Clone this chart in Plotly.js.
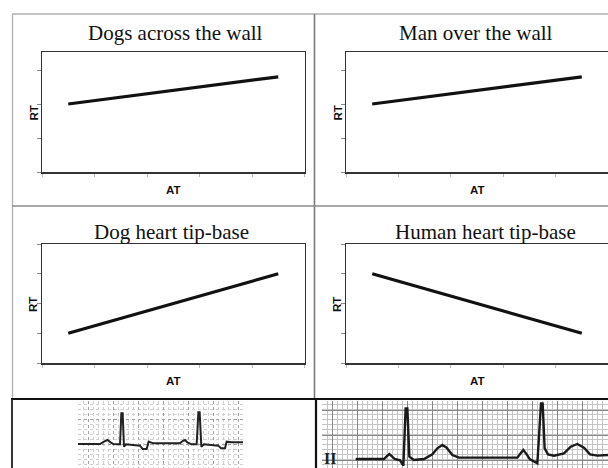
<!DOCTYPE html>
<html>
<head>
<meta charset="utf-8">
<script src="https://cdn.plot.ly/plotly-3.0.1.min.js"></script>
<style>html,body{margin:0;padding:0;background:#fff;}#chart{width:608px;height:468px;}</style>
</head>
<body>
<div id="chart"></div>
<script>
// ---- data ----
const panelTitles = ["Dogs across the wall", "Man over the wall", "Dog heart tip-base", "Human heart tip-base"];
const xLabel = "AT";
const yLabel = "RT";
const dogsWallAT = [0.5, 4.5];
const dogsWallRT = [2.0, 2.8];
const manWallAT = [0.5, 4.5];
const manWallRT = [2.0, 2.8];
const dogHeartAT = [0.5, 4.5];
const dogHeartRT = [1.0, 3.0];
const humanHeartAT = [0.5, 4.5];
const humanHeartRT = [3.0, 1.0];
// ECG traces (grid squares)
const dogEcgT = [0, 4.4, 5.2, 5.87, 6.53, 7.07, 8.07, 8.4, 8.67, 8.93, 9.2, 9.6, 12.4, 12.93, 13.73, 14.13, 15.07, 20.4, 20.93, 21.4, 21.87, 22.73, 23.73, 24.07, 24.33, 24.67, 25.2, 28.07, 28.6, 29.4, 29.73, 30.73, 33];
const dogEcgV = [0, 0, 0.47, 0.8, 0.33, 0, -0.07, -0.07, 6.13, 6.13, -0.53, -0.07, -0.33, -1.0, -1.0, 0.47, 0.13, 0.13, 0.6, 0.8, 0.33, -0.07, -0.07, 6.33, 6.33, -0.53, -0.07, -0.33, -0.87, -0.87, 0.47, 0.33, 0.33];
const humanEcgT = [6.73, 12.4, 12.93, 13.47, 14.0, 14.53, 15.6, 16.27, 16.73, 17.07, 17.47, 18.4, 20.4, 22.07, 23.07, 24.07, 24.93, 26.07, 27.4, 39.07, 39.73, 40.27, 40.93, 41.6, 43.07, 43.8, 44.13, 44.53, 45.2, 46.4, 48.4, 49.73, 51.07, 52.4, 53.6, 55.07, 57.2];
const humanEcgV = [0, 0, 0.53, 1.0, 0.53, 0, -0.27, -1.33, 10.13, 10.13, 0.47, -0.2, 0, 0.93, 2.13, 2.8, 2.27, 0.8, 0.27, 0.27, 1.13, 1.8, 0.93, -0.07, -0.87, 11.13, 11.13, 2.13, 0.93, 0.67, 1.13, 2.47, 3.0, 2.27, 0.93, 0.67, 0.8];
const leadLabel = "II";

// ---- layout helpers ----
const W = 608, H = 468;
const px = p => p / W;
const py = p => 1 - p / H;

const lineStyle = {color: '#111', width: 3.2};
const traces = [
  {x: dogsWallAT, y: dogsWallRT, xaxis: 'x', yaxis: 'y', mode: 'lines', line: lineStyle},
  {x: manWallAT, y: manWallRT, xaxis: 'x2', yaxis: 'y2', mode: 'lines', line: lineStyle},
  {x: dogHeartAT, y: dogHeartRT, xaxis: 'x3', yaxis: 'y3', mode: 'lines', line: lineStyle},
  {x: humanHeartAT, y: humanHeartRT, xaxis: 'x4', yaxis: 'y4', mode: 'lines', line: lineStyle},
  {x: dogEcgT, y: dogEcgV, xaxis: 'x5', yaxis: 'y5', mode: 'lines', line: {color: '#222', width: 2}},
  {x: humanEcgT, y: humanEcgV, xaxis: 'x6', yaxis: 'y6', mode: 'lines', line: {color: '#1a1a1a', width: 2.4}}
];

function xa(dom, anchor) {
  return {domain: dom, anchor: anchor, range: [0, 5], tick0: 0, dtick: 1, showline: true, mirror: true,
    linecolor: '#333', linewidth: 1.5, showgrid: false, zeroline: false, showticklabels: false,
    ticks: 'outside', ticklen: 3, tickcolor: '#bbb', fixedrange: true};
}
function ya(dom, anchor, top, mirror) {
  return {domain: dom, anchor: anchor, range: [0, top], tick0: 0, dtick: 1, showline: true, mirror: mirror,
    linecolor: '#333', linewidth: 1.5, showgrid: false, zeroline: false, showticklabels: false,
    ticks: 'outside', ticklen: 4, tickcolor: '#888', fixedrange: true};
}
function ecgAx(dom, anchor, range, tick0, major, minor, dash) {
  return {domain: dom, anchor: anchor, range: range, tick0: tick0, dtick: 5, showgrid: true,
    gridcolor: major, gridwidth: 1, griddash: dash, zeroline: false, showline: false, showticklabels: false,
    ticks: '', fixedrange: true,
    minor: {dtick: 1, showgrid: true, gridcolor: minor, gridwidth: 1, griddash: dash, ticks: ''}};
}

const row1 = [py(172), py(52)], row2 = [py(363), py(244)];
const colL = [px(42), px(304.5)], colR = [px(346), 1];

const layout = {
  width: W, height: H, margin: {l: 0, r: 0, t: 0, b: 0}, showlegend: false,
  paper_bgcolor: '#fff', plot_bgcolor: 'rgba(0,0,0,0)',
  xaxis: xa(colL, 'y'), yaxis: ya(row1, 'x', 3.53, true),
  xaxis2: xa(colR, 'y2'), yaxis2: ya(row1, 'x2', 3.53, false),
  xaxis3: xa(colL, 'y3'), yaxis3: ya(row2, 'x3', 4, true),
  xaxis4: xa(colR, 'y4'), yaxis4: ya(row2, 'x4', 4, false),
  xaxis5: ecgAx([px(78), px(243)], 'y5', [0, 33], 2, '#a0a0a0', '#cfcfcf', 'dot'),
  yaxis5: ecgAx([0, py(401)], 'x5', [-4.8, 8.6], 0, '#a0a0a0', '#cfcfcf', 'dot'),
  xaxis6: ecgAx([px(322), 1], 'y6', [0, 57.2], 2, '#888888', '#c4c4c4', 'solid'),
  yaxis6: ecgAx([0, py(401)], 'x6', [-1.8, 11.6], -0.2, '#888888', '#c4c4c4', 'solid'),
  annotations: [],
  shapes: []
};

const serif = {family: 'Liberation Serif, Times New Roman, serif', size: 21, color: '#111'};
const titlePos = [[175, 33.5], [476, 33.5], [171, 232], [485, 232]];
panelTitles.forEach((t, i) => {
  layout.annotations.push({text: t, xref: 'paper', yref: 'paper', x: px(titlePos[i][0]), y: py(titlePos[i][1]),
    xanchor: 'center', yanchor: 'middle', showarrow: false, font: serif});
});
const sans = {family: 'Liberation Sans, Arial, sans-serif', size: 11.5, color: '#111', weight: 'bold'};
[[33, 113.5], [337, 113.5], [33, 305], [337, 305]].forEach(p => {
  layout.annotations.push({text: '<b>' + yLabel + '</b>', xref: 'paper', yref: 'paper', x: px(p[0]), y: py(p[1]),
    xanchor: 'center', yanchor: 'middle', textangle: -90, showarrow: false, font: sans});
});
[[173, 190], [477, 190], [173, 381], [477, 381]].forEach(p => {
  layout.annotations.push({text: '<b>' + xLabel + '</b>', xref: 'paper', yref: 'paper', x: px(p[0]), y: py(p[1]),
    xanchor: 'center', yanchor: 'middle', showarrow: false, font: sans});
});
layout.annotations.push({text: '<b>' + leadLabel + '</b>', xref: 'paper', yref: 'paper', x: px(329.5), y: py(458.5),
  xanchor: 'center', yanchor: 'middle', showarrow: false,
  font: {family: 'Liberation Serif, serif', size: 16, color: '#222'}});

// table borders
function seg(x0, y0, x1, y1, color, w) {
  layout.shapes.push({type: 'line', xref: 'paper', yref: 'paper', x0: px(x0), y0: py(y0), x1: px(x1), y1: py(y1),
    line: {color: color, width: w}});
}
seg(12, 14, 608, 14, '#b0b0b0', 1.3);
seg(12.5, 14, 12.5, 399, '#b0b0b0', 1.3);
seg(314.5, 14, 314.5, 399, '#7a7a7a', 1.6);
seg(12, 206, 608, 206, '#8a8a8a', 1.6);
seg(11, 399, 608, 399, '#111', 2);
seg(12, 399, 12, 468, '#222', 1.8);
seg(316, 399, 316, 468, '#111', 2.2);

Plotly.newPlot('chart', traces, layout, {staticPlot: true, displayModeBar: false});
</script>
</body>
</html>
